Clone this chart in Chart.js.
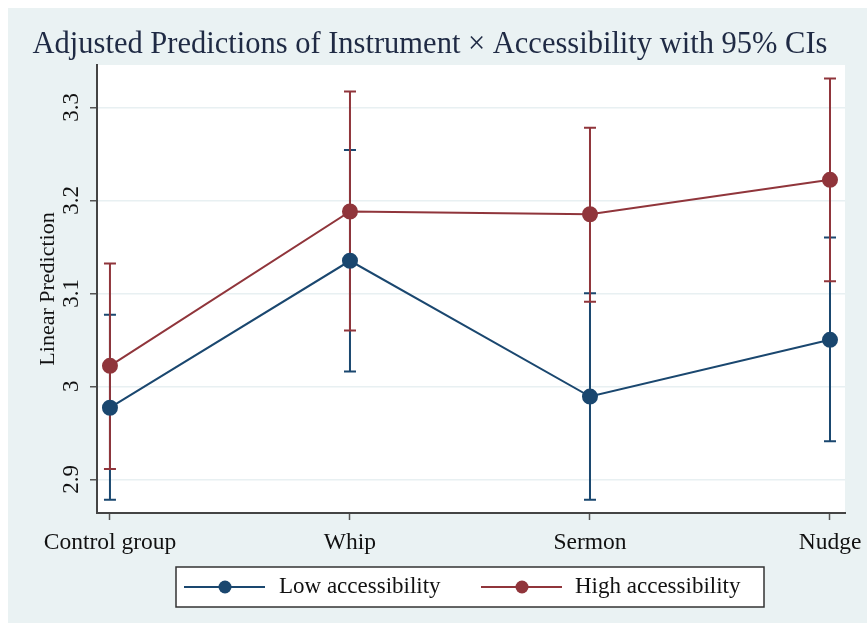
<!DOCTYPE html>
<html>
<head>
<meta charset="utf-8">
<script src="https://cdn.jsdelivr.net/npm/chart.js@4.4.1/dist/chart.umd.min.js"></script>
<style>
  html, body { margin: 0; padding: 0; background: #fff; }
</style>
</head>
<body>
<canvas id="chart" width="867" height="623"></canvas>
<script>
// categories and values
const groups = ['Control group', 'Whip', 'Sermon', 'Nudge'];
const lowMean = [2.977, 3.135, 2.989, 3.050];
const lowUpper = [3.077, 3.254, 3.100, 3.160];
const lowLower = [2.878, 3.016, 2.878, 2.941];
const highMean = [3.022, 3.188, 3.185, 3.222];
const highUpper = [3.132, 3.317, 3.278, 3.331];
const highLower = [2.911, 3.060, 3.091, 3.113];
const yTicks = [2.9, 3, 3.1, 3.2, 3.3];
const seriesNames = ['Low accessibility', 'High accessibility'];

const BLUE = '#1a476f';
const RED = '#90353b';
const BG = '#eaf2f3';
const SERIF = '"Liberation Serif", "DejaVu Serif", serif';

function points(vals) {
  return vals.map((v, i) => ({ x: i, y: v }));
}

// background + white plot region
const bgPlugin = {
  id: 'bg',
  beforeDraw(chart) {
    const ctx = chart.ctx, a = chart.chartArea;
    ctx.save();
    ctx.fillStyle = '#fff';
    ctx.fillRect(0, 0, chart.width, chart.height);
    ctx.fillStyle = BG;
    ctx.fillRect(8, 8, chart.width - 8, chart.height - 8);
    ctx.fillStyle = '#fff';
    ctx.fillRect(a.left, a.top, a.right - a.left, a.bottom - a.top);
    ctx.restore();
  }
};

// confidence interval bars
const ciPlugin = {
  id: 'ci',
  beforeDatasetsDraw(chart) {
    const ctx = chart.ctx;
    const xs = chart.scales.x, ys = chart.scales.y;
    const sets = [[lowLower, lowUpper, BLUE], [highLower, highUpper, RED]];
    ctx.save();
    ctx.lineWidth = 2;
    sets.forEach(([lo, hi, col]) => {
      ctx.strokeStyle = col;
      lo.forEach((v, i) => {
        const x = xs.getPixelForValue(i);
        const y1 = ys.getPixelForValue(v);
        const y2 = ys.getPixelForValue(hi[i]);
        ctx.beginPath();
        ctx.moveTo(x, y1); ctx.lineTo(x, y2);
        ctx.moveTo(x - 6, y1); ctx.lineTo(x + 6, y1);
        ctx.moveTo(x - 6, y2); ctx.lineTo(x + 6, y2);
        ctx.stroke();
      });
    });
    ctx.restore();
  }
};

// title and legend box
const textPlugin = {
  id: 'texts',
  afterDraw(chart) {
    const ctx = chart.ctx;
    ctx.save();
    ctx.fillStyle = '#1f2a44';
    ctx.font = '30.5px ' + SERIF;
    ctx.textAlign = 'center';
    ctx.textBaseline = 'middle';
    ctx.fillText('Adjusted Predictions of Instrument \u00d7 Accessibility with 95% CIs', 430, 45);

    // legend
    ctx.fillStyle = '#fff';
    ctx.fillRect(176, 567, 588, 40);
    ctx.strokeStyle = '#333';
    ctx.lineWidth = 1.5;
    ctx.strokeRect(176, 567, 588, 40);
    const items = [[184, BLUE, 279], [481, RED, 575]];
    items.forEach(([x0, col, tx], k) => {
      const cy = 587;
      ctx.strokeStyle = col;
      ctx.lineWidth = 2;
      ctx.beginPath();
      ctx.moveTo(x0, cy); ctx.lineTo(x0 + 81, cy);
      ctx.stroke();
      ctx.fillStyle = col;
      ctx.beginPath();
      ctx.arc(x0 + 41, cy, 6.5, 0, Math.PI * 2);
      ctx.fill();
      ctx.fillStyle = '#111';
      ctx.font = '23px ' + SERIF;
      ctx.textAlign = 'left';
      ctx.fillText(seriesNames[k], tx, cy);
    });
    ctx.restore();
  }
};

const chart = new Chart(document.getElementById('chart'), {
  type: 'line',
  data: {
    datasets: [
      {
        label: seriesNames[0],
        data: points(lowMean),
        borderColor: BLUE,
        backgroundColor: BLUE,
        borderWidth: 2,
        pointRadius: 7,
        pointHoverRadius: 7,
        tension: 0
      },
      {
        label: seriesNames[1],
        data: points(highMean),
        borderColor: RED,
        backgroundColor: RED,
        borderWidth: 2,
        pointRadius: 7,
        pointHoverRadius: 7,
        tension: 0
      }
    ]
  },
  options: {
    responsive: false,
    animation: false,
    events: [],
    layout: { padding: { top: 65, right: 22, bottom: 65, left: 0 } },
    plugins: {
      legend: { display: false },
      title: { display: false },
      tooltip: { enabled: false }
    },
    scales: {
      x: {
        type: 'linear',
        min: -0.054,
        max: 3.0625,
        afterBuildTicks(s) { s.ticks = groups.map((g, i) => ({ value: i })); },
        afterFit(s) { s.height = 45; s.paddingLeft = 0; s.paddingRight = 0; },
        ticks: {
          callback: (v) => groups[v],
          color: '#111',
          font: { family: SERIF, size: 23.5 },
          padding: 9,
          maxRotation: 0,
          autoSkip: false
        },
        grid: { drawOnChartArea: false, tickLength: 7, tickColor: '#555', tickWidth: 1.5 },
        border: { color: '#444', width: 2 }
      },
      y: {
        min: 2.8638,
        max: 3.3455,
        afterBuildTicks(s) { s.ticks = yTicks.map(v => ({ value: v })); },
        afterFit(s) { s.width = 97; s.paddingTop = 0; s.paddingBottom = 0; },
        ticks: {
          callback: (v) => String(v),
          color: '#111',
          font: { family: SERIF, size: 23 },
          minRotation: 90,
          maxRotation: 90,
          crossAlign: 'center',
          padding: 4
        },
        title: {
          display: true,
          text: 'Linear Prediction',
          color: '#111',
          font: { family: SERIF, size: 22 },
          padding: { top: 35, bottom: 0 }
        },
        grid: { color: '#e8f0f2', lineWidth: 1.5, tickLength: 7, tickColor: '#555', tickWidth: 1.5 },
        border: { color: '#444', width: 2 }
      }
    }
  },
  plugins: [bgPlugin, ciPlugin, textPlugin]
});
</script>
</body>
</html>
